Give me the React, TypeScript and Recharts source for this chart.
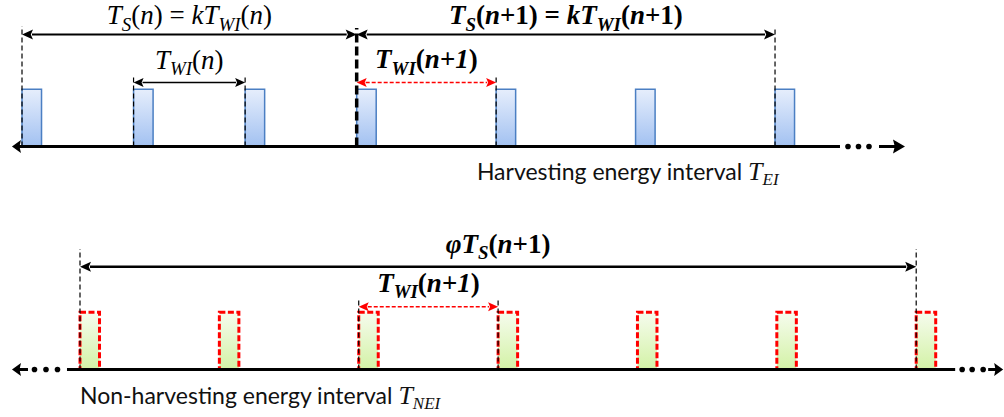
import React from 'react';
import { ComposedChart, XAxis, YAxis, ReferenceArea, ReferenceLine, ReferenceDot } from 'recharts';

// ---------------- data (time in slot units, normalised amplitude) ----------------
const topPulseTimes = [0, 4, 8, 12, 17, 22, 27];
const bottomPulseTimes = [2, 7, 12, 17, 22, 27, 32];
const pulseDuration = 0.7;
const pulseAmplitude = 1;

const topSuperframeN = [0, 12];
const topSuperframeN1 = [12, 27];
const topWakeN = [4, 8];
const topWakeN1 = [12, 17];
const bottomPhiSpan = [2, 32];
const bottomWakeN1 = [12, 17];
const topAxisSpan = [-0.36, 31.66];
const bottomAxisSpan = [-0.44, 35.12];
const topCaptionStart = 16.31;
const bottomCaptionStart = 2;

type Seg = { s: string; i?: boolean; sub?: boolean };
const labelTsN: Seg[] = [
  { s: 'T', i: true }, { s: 'S', i: true, sub: true }, { s: '(' }, { s: 'n', i: true }, { s: ') = ' },
  { s: 'k', i: true }, { s: 'T', i: true }, { s: 'WI', i: true, sub: true }, { s: '(' }, { s: 'n', i: true }, { s: ')' },
];
const labelTwiN: Seg[] = [{ s: 'T', i: true }, { s: 'WI', i: true, sub: true }, { s: '(' }, { s: 'n', i: true }, { s: ')' }];
const labelTsN1: Seg[] = [
  { s: 'T', i: true }, { s: 'S', i: true, sub: true }, { s: '(' }, { s: 'n', i: true }, { s: '+1) = ' },
  { s: 'k', i: true }, { s: 'T', i: true }, { s: 'WI', i: true, sub: true }, { s: '(' }, { s: 'n', i: true }, { s: '+1)' },
];
const labelTwiN1: Seg[] = [{ s: 'T', i: true }, { s: 'WI', i: true, sub: true }, { s: '(' }, { s: 'n+1', i: true }, { s: ')' }];
const labelPhiTs: Seg[] = [{ s: 'φT', i: true }, { s: 'S', i: true, sub: true }, { s: '(' }, { s: 'n', i: true }, { s: '+1)' }];

const SERIF = "'Liberation Serif', 'Times New Roman', serif";
const SANS = "Lato, 'Open Sans', sans-serif";
const MATH_SIZE = 27;

function MathText({ x, y, segs, size, bold, anchor = 'middle' }: any) {
  const subSize = size * 0.7;
  const shift = size * 0.24;
  let cur = 0;
  return (
    <text x={x} y={y} textAnchor={anchor} fontFamily={SERIF} fontSize={size} fontWeight={bold ? 'bold' : 'normal'} fill="#000" style={{ whiteSpace: 'pre' }}>
      {segs.map((g: Seg, k: number) => {
        const target = g.sub ? shift : 0;
        const dy = target - cur;
        cur = target;
        return (
          <tspan key={k} dy={dy} fontStyle={g.i ? 'italic' : 'normal'} fontSize={g.sub ? subSize : size}>
            {g.s}
          </tspan>
        );
      })}
    </text>
  );
}

const arrowShape = (opts: { color: string; width: number; dash?: string; head: number; half: number; label?: Seg[]; bold?: boolean; size?: number; off?: number }) =>
  (p: any) => {
    const { x1, y1, x2 } = p;
    const y = y1;
    const { color, width, dash, head, half } = opts;
    return (
      <g>
        <line x1={x1 + head - 1} y1={y} x2={x2 - head + 1} y2={y} stroke={color} strokeWidth={width} strokeDasharray={dash} />
        <polygon points={`${x1},${y} ${x1 + head},${y - half} ${x1 + head * 0.8},${y} ${x1 + head},${y + half}`} fill={color} />
        <polygon points={`${x2},${y} ${x2 - head},${y - half} ${x2 - head * 0.8},${y} ${x2 - head},${y + half}`} fill={color} />
        {opts.label && (
          <MathText x={(x1 + x2) / 2} y={y - (opts.off || 12)} segs={opts.label} size={opts.size || MATH_SIZE} bold={opts.bold} />
        )}
      </g>
    );
  };

const axisShape = (o: { leftDots: boolean; rightLineGap: number; rightDots: number[]; rightShaft: number; head: number; half: number }) =>
  (p: any) => {
    const { x1, y1, x2 } = p;
    const y = y1;
    const r = 2.8;
    const lw = 3;
    const parts: any[] = [];
    parts.push(<polygon key="lh" points={`${x1},${y} ${x1 + 9},${y - 6.5} ${x1 + 7.5},${y} ${x1 + 9},${y + 6.5}`} fill="#000" />);
    if (o.leftDots) {
      parts.push(<line key="ls" x1={x1 + 7} y1={y} x2={x1 + 16} y2={y} stroke="#000" strokeWidth={lw} />);
      [22.5, 34, 45.5].forEach((d, k) => parts.push(<circle key={'ld' + k} cx={x1 + d} cy={y} r={r} fill="#000" />));
      parts.push(<line key="main" x1={x1 + 55} y1={y} x2={x2 - o.rightLineGap} y2={y} stroke="#000" strokeWidth={lw} />);
    } else {
      parts.push(<line key="main" x1={x1 + 7} y1={y} x2={x2 - o.rightLineGap} y2={y} stroke="#000" strokeWidth={lw} />);
    }
    o.rightDots.forEach((d, k) => parts.push(<circle key={'rd' + k} cx={x2 - d} cy={y} r={r} fill="#000" />));
    parts.push(<line key="rs" x1={x2 - o.rightShaft} y1={y} x2={x2 - o.head + 2} y2={y} stroke="#000" strokeWidth={lw} />);
    parts.push(<polygon key="rh" points={`${x2},${y} ${x2 - o.head},${y - o.half} ${x2 - o.head * 0.85},${y} ${x2 - o.head},${y + o.half}`} fill="#000" />);
    return <g>{parts}</g>;
  };

const vline = (t: number, top: number, thick = false) => (
  <ReferenceLine
    key={`v${t}-${top}-${thick}`}
    segment={[{ x: t, y: 0 }, { x: t, y: top }]}
    stroke="#000"
    strokeWidth={thick ? 3.5 : 1.2}
    strokeDasharray={thick ? '9 4' : '5 3'}
    ifOverflow="visible"
  />
);

const Caption = ({ cx, cy, text, sub }: any) => (
  <text x={cx} y={cy} fontFamily={SANS} fontSize={23} fill="#111">
    {text + ' '}
    <tspan fontFamily={SERIF} fontStyle="italic" fontSize={26}>T</tspan>
    <tspan fontFamily={SERIF} fontStyle="italic" fontSize={17} dy={5}>{sub}</tspan>
  </text>
);

export default function App() {
  const topData = topPulseTimes.map((t) => ({ t, a: pulseAmplitude }));
  const bottomData = bottomPulseTimes.map((t) => ({ t, a: pulseAmplitude }));
  return (
    <div style={{ position: 'absolute', left: 0, top: 0, width: 1004, height: 417, background: '#fff' }}>
      <svg width={0} height={0} style={{ position: 'absolute' }}>
        <defs>
          <linearGradient id="blueGrad" x1="0" y1="0" x2="0" y2="1">
            <stop offset="0%" stopColor="#e6eefc" />
            <stop offset="100%" stopColor="#a2c1f1" />
          </linearGradient>
          <linearGradient id="greenGrad" x1="0" y1="0" x2="0" y2="1">
            <stop offset="0%" stopColor="#f6fcee" />
            <stop offset="100%" stopColor="#d3f2a6" />
          </linearGradient>
        </defs>
      </svg>

      {/* Harvesting energy interval */}
      <ComposedChart width={1004} height={200} data={topData} margin={{ top: 0, right: 0, bottom: 0, left: 0 }}>
        <XAxis type="number" dataKey="t" domain={[-0.789, 35.21]} allowDataOverflow hide />
        <YAxis type="number" dataKey="a" domain={[-0.935, 2.561]} allowDataOverflow hide />
        {topPulseTimes.map((t) => (
          <ReferenceArea key={'tp' + t} x1={t} x2={t + pulseDuration} y1={0} y2={pulseAmplitude} fill="url(#blueGrad)" fillOpacity={1} stroke="#4b7fc3" strokeWidth={1.5} ifOverflow="visible" />
        ))}
        {vline(topSuperframeN[0], 2.1)}
        {vline(topSuperframeN1[1], 2.08)}
        {vline(topWakeN[0], 1.25)}
        {vline(topWakeN[1], 1.25)}
        {vline(topWakeN1[1], 1.25)}
        {vline(topSuperframeN[1], 2.07, true)}
        <ReferenceLine segment={[{ x: topSuperframeN[0], y: 1.958 }, { x: topSuperframeN[1], y: 1.958 }]} ifOverflow="visible"
          shape={arrowShape({ color: '#000', width: 2, head: 11, half: 5, label: labelTsN, off: 10 })} />
        <ReferenceLine segment={[{ x: topSuperframeN1[0], y: 1.958 }, { x: topSuperframeN1[1], y: 1.958 }]} ifOverflow="visible"
          shape={arrowShape({ color: '#000', width: 2, head: 11, half: 5, label: labelTsN1, bold: true, off: 10 })} />
        <ReferenceLine segment={[{ x: topWakeN[0], y: 1.119 }, { x: topWakeN[1], y: 1.119 }]} ifOverflow="visible"
          shape={arrowShape({ color: '#000', width: 1.5, head: 10, half: 4.5, label: labelTwiN, off: 13.5 })} />
        <ReferenceLine segment={[{ x: topWakeN1[0], y: 1.119 }, { x: topWakeN1[1], y: 1.119 }]} ifOverflow="visible"
          shape={arrowShape({ color: '#ff0000', width: 1.5, dash: '4 2', head: 10, half: 4.5, label: labelTwiN1, bold: true, off: 14 })} />
        <ReferenceLine segment={[{ x: topAxisSpan[0], y: 0 }, { x: topAxisSpan[1], y: 0 }]} ifOverflow="visible"
          shape={axisShape({ leftDots: false, rightLineGap: 65, rightDots: [57, 46.5, 36], rightShaft: 26, head: 12, half: 7 })} />
        <ReferenceDot x={topCaptionStart} y={-0.586} ifOverflow="visible"
          shape={(p: any) => <Caption cx={p.cx} cy={p.cy} text="Harvesting energy interval" sub="EI" />} />
      </ComposedChart>

      {/* Non-harvesting energy interval */}
      <ComposedChart width={1004} height={217} data={bottomData} margin={{ top: 0, right: 0, bottom: 0, left: 0 }}>
        <XAxis type="number" dataKey="t" domain={[-0.870, 35.15]} allowDataOverflow hide />
        <YAxis type="number" dataKey="a" domain={[-0.830, 2.963]} allowDataOverflow hide />
        {bottomPulseTimes.map((t) => (
          <ReferenceArea key={'bp' + t} x1={t} x2={t + pulseDuration} y1={0} y2={pulseAmplitude} fill="url(#greenGrad)" fillOpacity={1} stroke="#ff0000" strokeWidth={3} strokeDasharray="6 2.5" ifOverflow="visible" />
        ))}
        {vline(bottomPhiSpan[0], 2.107)}
        {vline(bottomPhiSpan[1], 2.107)}
        {vline(bottomWakeN1[0], 1.25)}
        {vline(bottomWakeN1[1], 1.25)}
        <ReferenceLine segment={[{ x: bottomPhiSpan[0], y: 1.797 }, { x: bottomPhiSpan[1], y: 1.797 }]} ifOverflow="visible"
          shape={arrowShape({ color: '#000', width: 2.5, head: 11, half: 5, label: labelPhiTs, bold: true, off: 13.7 })} />
        <ReferenceLine segment={[{ x: bottomWakeN1[0], y: 1.098 }, { x: bottomWakeN1[1], y: 1.098 }]} ifOverflow="visible"
          shape={arrowShape({ color: '#ff0000', width: 1.5, dash: '4 2', head: 10, half: 4.5, label: labelTwiN1, bold: true, off: 14.7 })} />
        <ReferenceLine segment={[{ x: bottomAxisSpan[0], y: 0 }, { x: bottomAxisSpan[1], y: 0 }]} ifOverflow="visible"
          shape={axisShape({ leftDots: true, rightLineGap: 48, rightDots: [41, 31, 20], rightShaft: 15, head: 9, half: 6.5 })} />
        <ReferenceDot x={bottomCaptionStart} y={-0.603} ifOverflow="visible"
          shape={(p: any) => <Caption cx={p.cx} cy={p.cy} text="Non-harvesting energy interval" sub="NEI" />} />
      </ComposedChart>
    </div>
  );
}
